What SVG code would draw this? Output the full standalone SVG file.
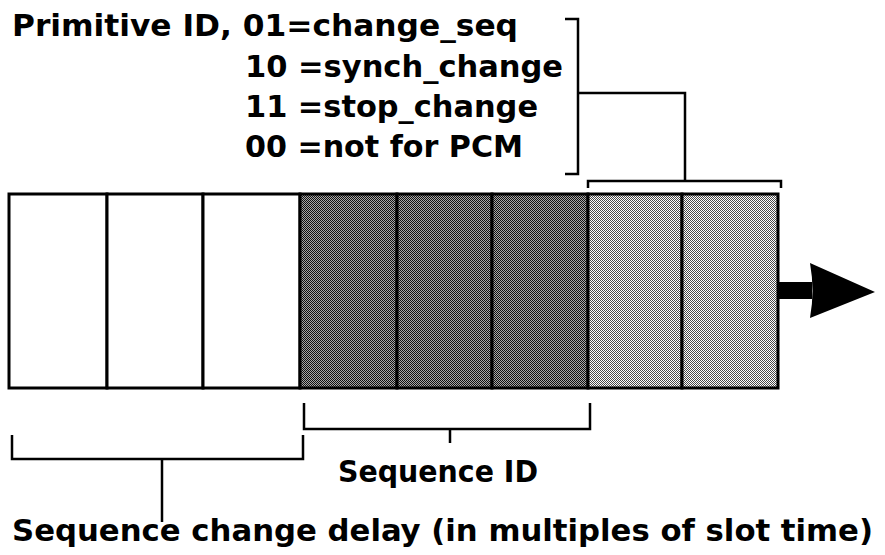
<svg xmlns="http://www.w3.org/2000/svg" width="885" height="555" viewBox="0 0 885 555">
<defs>
<pattern id="dark" width="2" height="2" patternUnits="userSpaceOnUse">
<rect width="2" height="2" fill="#a8a8a8"/>
<rect width="1" height="1" fill="#111111"/>
<rect x="1" y="1" width="1" height="1" fill="#111111"/>
</pattern>
<pattern id="light" width="2" height="2" patternUnits="userSpaceOnUse">
<rect width="2" height="2" fill="#ffffff"/>
<rect width="1" height="1" fill="#4a4a4a"/>
<rect x="1" y="1" width="1" height="1" fill="#4a4a4a"/>
</pattern>
<style>
.t{font-family:"DejaVu Sans Condensed","DejaVu Sans",sans-serif;font-weight:bold;font-size:31px;fill:#000}
.box{stroke:#000;stroke-width:3}
.br{fill:none;stroke:#000;stroke-width:2.5}
</style>
</defs>

<g id="slots">
<g id="slot1"><rect class="box" x="9" y="194" width="98" height="194" fill="#fff"/></g>
<g id="slot2"><rect class="box" x="107" y="194" width="96" height="194" fill="#fff"/></g>
<g id="slot3"><rect class="box" x="203" y="194" width="97" height="194" fill="#fff"/></g>
<g id="slot4"><rect class="box" x="300" y="194" width="97" height="194" fill="url(#dark)"/></g>
<g id="slot5"><rect class="box" x="397" y="194" width="95" height="194" fill="url(#dark)"/></g>
<g id="slot6"><rect class="box" x="492" y="194" width="96" height="194" fill="url(#dark)"/></g>
<g id="slot7"><rect class="box" x="588" y="194" width="94" height="194" fill="url(#light)"/></g>
<g id="slot8"><rect class="box" x="682" y="194" width="96" height="194" fill="url(#light)"/></g>
</g>

<g id="arrow">
<rect x="778" y="282" width="34" height="17" fill="#000"/>
<path d="M810,263 L875,292 L810,318 Q815,291 810,263 Z" fill="#000"/>
</g>

<g id="connectors">
<path class="br" d="M565,19 H578 V174 H565"/>
<path class="br" d="M578,93 H685 V181"/>
<path class="br" d="M588,188 V181 H781 V188"/>
<path class="br" d="M304,403 V429 H590 V403"/>
<path class="br" d="M450,429 V443"/>
<path class="br" d="M12,435 V459 H303 V435"/>
<path class="br" d="M162,459 V522"/>
</g>

<g id="primitive-label">
<text class="t" x="12" y="36" textLength="506" lengthAdjust="spacingAndGlyphs">Primitive ID, 01=change_seq</text>
<text class="t" x="245" y="77" textLength="318" lengthAdjust="spacingAndGlyphs">10 =synch_change</text>
<text class="t" x="245" y="117" textLength="293" lengthAdjust="spacingAndGlyphs">11 =stop_change</text>
<text class="t" x="245" y="157" textLength="278" lengthAdjust="spacingAndGlyphs">00 =not for PCM</text>
</g>
<g id="sequence-id-label">
<text class="t" x="338" y="482" textLength="200" lengthAdjust="spacingAndGlyphs">Sequence ID</text>
</g>
<g id="delay-label">
<text class="t" x="12" y="541" textLength="861" lengthAdjust="spacingAndGlyphs">Sequence change delay (in multiples of slot time)</text>
</g>
</svg>
